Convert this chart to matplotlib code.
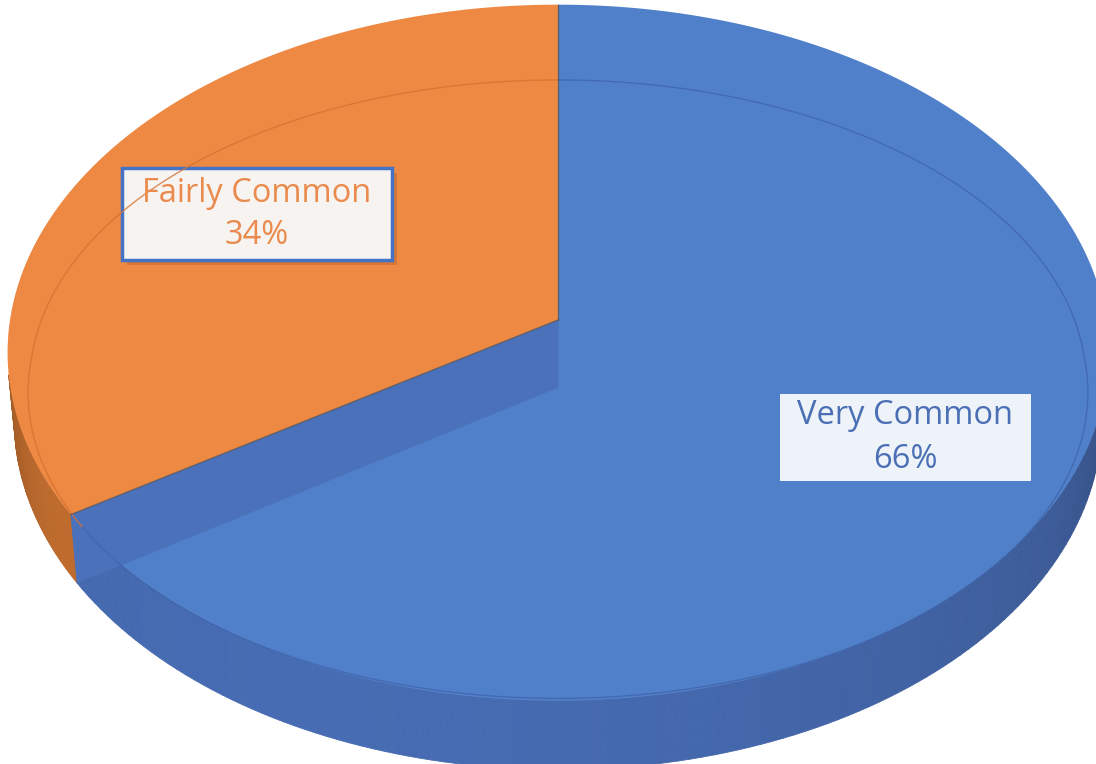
import numpy as np
import matplotlib
matplotlib.use("Agg")
import matplotlib.pyplot as plt
from matplotlib.patches import Polygon, Rectangle
from matplotlib.collections import PolyCollection

labels = ["Very Common", "Fairly Common"]
shares = [66, 34]
top_cols = ["#5180CA", "#EE8944"]
side_cols = [(0.29, 0.44, 0.73), (0.80, 0.45, 0.19)]
text_cols = ["#4A6FB5", "#EA8A4C"]

# camera (elevation, distance) and pixel mapping
elev = np.deg2rad(39)
dist = 8.3
depth_h = 0.16
cx, cy, scale = 558, 320, 548
ce, se = np.cos(elev), np.sin(elev)

def proj(x, y, z):
    x, y, z = np.broadcast_arrays(np.asarray(x, float), np.asarray(y, float), np.asarray(z, float))
    d = y * ce - z * se + dist
    px = cx + x * scale * dist / d
    py = cy - (y * se + z * ce) * scale * dist / d
    return np.column_stack([px, py])

# slice angles (math angle, ccw); orange starts at 12 o'clock going ccw,
# blue fills the rest
fracs = np.array(shares) / sum(shares)
a_or0 = 90.0
a_or1 = 90.0 + 360 * fracs[1]
a_bl0 = a_or1
a_bl1 = 450.0

fig = plt.figure(figsize=(10.96, 7.64), dpi=100)
ax = fig.add_axes([0, 0, 1, 1])
ax.set_xlim(0, 1096)
ax.set_ylim(764, 0)
ax.axis("off")

# outer side walls (only the part facing the camera)
def side_wall(a0, a1, col):
    ph = np.deg2rad(np.linspace(a0, a1, 200))
    polys, cols = [], []
    for i in range(len(ph) - 1):
        p = ph[i:i + 2]
        mid = p.mean()
        if np.sin(mid) > -1.0 / (dist * ce):
            continue
        top = proj(np.cos(p), np.sin(p), 0)
        bot = proj(np.cos(p), np.sin(p), -depth_h)
        polys.append(np.vstack([top, bot[::-1]]))
        k = 0.80 + 0.16 * max(0.0, np.cos(mid - np.deg2rad(245))) - 0.18 * max(0.0, np.sin(mid) + 0.45) / 0.55
        k = min(k, 1.0)
        cols.append(tuple(np.clip(np.array(col) * k, 0, 1)))
    pc = PolyCollection(polys, facecolors=cols, edgecolors=cols, linewidths=0.6)
    ax.add_collection(pc)

side_wall(a_bl0, a_bl1, side_cols[0])
side_wall(a_or0, a_or1, side_cols[1])

def top_face(a0, a1):
    ph = np.deg2rad(np.linspace(a0, a1, 300))
    rim = proj(np.cos(ph), np.sin(ph), 0)
    return np.vstack([proj(0, 0, 0), rim])

# blue top
ax.add_patch(Polygon(top_face(a_bl0, a_bl1), closed=True, facecolor=top_cols[0], edgecolor="none"))

# cut wall of the blue slice along the boundary
ang = np.deg2rad(a_bl0)
wall = np.vstack([proj(0, 0, 0), proj(np.cos(ang), np.sin(ang), 0),
                  proj(np.cos(ang), np.sin(ang), -depth_h), proj(0, 0, -depth_h)])
ax.add_patch(Polygon(wall, closed=True, facecolor="#4A71BA", edgecolor="#4A71BA", lw=0.5))

# orange top
ax.add_patch(Polygon(top_face(a_or0, a_or1), closed=True, facecolor=top_cols[1], edgecolor="none"))

# faint bevel line
def bevel(a0, a1, col):
    ph = np.deg2rad(np.linspace(a0, a1, 300))
    rb = 0.965 + 0.03 * np.clip(-np.sin(ph), 0, None)
    yy = rb * np.sin(ph)
    ln = proj(rb * np.cos(ph), yy, -depth_h * (1 + np.sin(ph)) / 2)
    ax.plot(ln[:, 0], ln[:, 1], color=col, lw=1.0, alpha=0.8)

bevel(a_bl0, a_bl1, "#3F65AD")
bevel(a_or0, a_or1, "#D6722F")

# slice boundary lines
for a in [a_or0, a_or1]:
    r = np.deg2rad(a)
    seg = np.vstack([proj(0, 0, 0), proj(np.cos(r), np.sin(r), 0)])
    ax.plot(seg[:, 0], seg[:, 1], color="#555555", lw=1.0, alpha=0.7)

# data labels
lab_pos = [(905, 437), (257, 214)]
box_size = [(251, 87), (270, 92)]
box_bg = ["#EEF2F9", "#F7F3F1"]
for i in range(2):
    x, y = lab_pos[i]
    w, h = box_size[i]
    if i == 1:
        ax.add_patch(Rectangle((x - w / 2 + 5, y - h / 2 + 5), w, h, facecolor="#B5602A", alpha=0.45, edgecolor="none"))
        ax.add_patch(Rectangle((x - w / 2, y - h / 2), w, h, facecolor=box_bg[i], edgecolor="#4472C4", lw=2.5))
    else:
        ax.add_patch(Rectangle((x - w / 2, y - h / 2), w, h, facecolor=box_bg[i], edgecolor="none"))
    ax.text(x, y - 21, labels[i], ha="center", va="center", fontsize=23.5,
            family=["Open Sans", "DejaVu Sans"], color=text_cols[i])
    ax.text(x, y + 22, f"{shares[i]}%", ha="center", va="center", fontsize=23.5,
            family=["Open Sans", "DejaVu Sans"], color=text_cols[i])

fig.savefig("out.png", dpi=100)
